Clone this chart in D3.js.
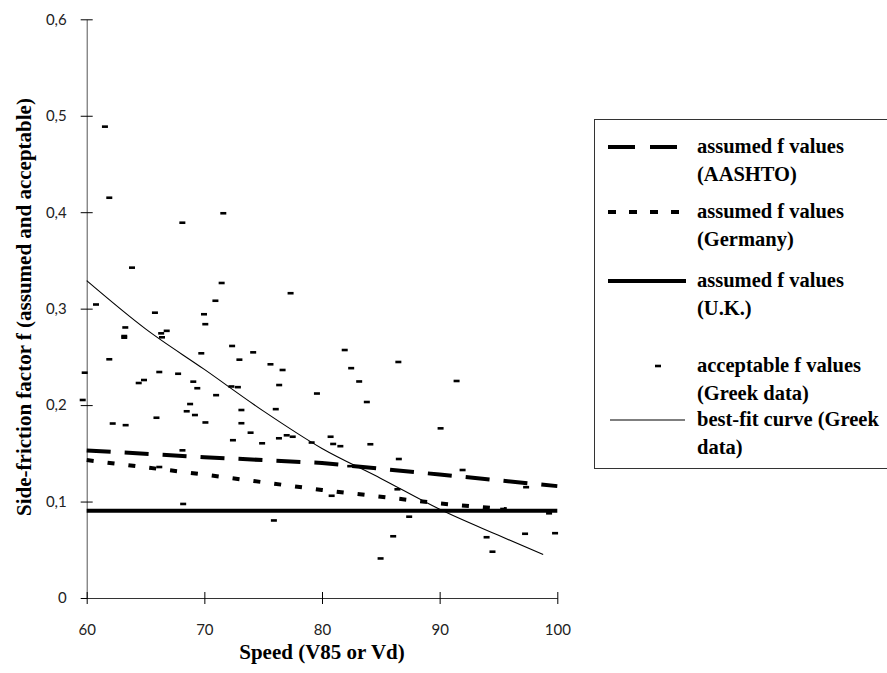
<!DOCTYPE html>
<html><head><meta charset="utf-8">
<script src="https://cdn.jsdelivr.net/npm/d3@7"></script>
<style>
body{margin:0;background:#fff;}
svg{display:block;}
</style></head>
<body>
<svg id="chart" width="887" height="673"></svg>
<script>
// ---- data ----
const xTicks = [60, 70, 80, 90, 100];
const yTicks = [0, 0.1, 0.2, 0.3, 0.4, 0.5, 0.6];
const yTickLabels = ["0", "0,1", "0,2", "0,3", "0,4", "0,5", "0,6"];

const aashtoSpeed = [60, 70, 80, 90, 100];
const aashtoF = [0.153, 0.146, 0.140, 0.128, 0.116];

const germanySpeed = [60, 70, 80, 90, 95.7];
const germanyF = [0.143, 0.128, 0.112, 0.098, 0.092];

const ukSpeed = [60, 100];
const ukF = [0.0905, 0.0905];

const fitSpeed = [60, 65, 70, 75, 80, 85, 90, 95, 98.8];
const fitF = [0.329, 0.279, 0.237, 0.194, 0.155, 0.124, 0.092, 0.065, 0.045];

const greekSpeed = [61.55,61.92,68.13,71.61,63.85,71.47,77.33,70.94,60.79,65.80,69.97,70.08,63.28,63.19,63.19,66.33,66.80,66.40,61.92,59.83,59.66,66.17,67.77,69.74,72.36,72.98,74.15,75.62,76.65,76.36,64.42,64.87,69.06,69.40,71.00,72.30,72.85,68.79,68.50,69.20,65.93,73.15,76.07,79.57,62.21,63.31,70.09,73.15,73.93,72.43,74.91,76.34,77.00,77.51,79.12,68.14,66.17,68.20,75.91,81.93,82.48,83.16,83.81,86.49,91.44,90.08,80.73,80.95,81.56,84.11,86.53,82.40,91.95,97.35,80.82,86.41,87.41,86.05,84.98,93.99,94.49,97.26,99.81,99.30,95.40];
const greekF = [0.4887,0.4150,0.3891,0.3989,0.3425,0.3266,0.3160,0.3082,0.3043,0.2958,0.2942,0.2839,0.2805,0.2716,0.2699,0.2744,0.2770,0.2703,0.2475,0.2336,0.2053,0.2343,0.2325,0.2537,0.2613,0.2471,0.2547,0.2423,0.2364,0.2208,0.2229,0.2260,0.2243,0.2175,0.2103,0.2193,0.2186,0.2011,0.1936,0.1897,0.1869,0.1949,0.1958,0.2120,0.1809,0.1792,0.1820,0.1812,0.1714,0.1636,0.1604,0.1656,0.1687,0.1672,0.1612,0.1531,0.1358,0.0975,0.0804,0.2571,0.2383,0.2245,0.2032,0.2447,0.2250,0.1759,0.1672,0.1597,0.1574,0.1594,0.1441,0.1367,0.1327,0.1149,0.1060,0.1127,0.0843,0.0640,0.0410,0.0630,0.0480,0.0666,0.0672,0.0878,0.0923];

const legendLabels = [
  ["assumed f values", "(AASHTO)"],
  ["assumed f values", "(Germany)"],
  ["assumed f values", "(U.K.)"],
  ["acceptable f values", "(Greek data)"],
  ["best-fit curve (Greek", "data)"]
];

// ---- drawing ----
const svg = d3.select("#chart");
const x = d3.scaleLinear().domain([60, 100]).range([86.7, 557.3]);
const y = d3.scaleLinear().domain([0, 0.6]).range([598, 19.3]);
const tickFont = "Lato, 'Open Sans', sans-serif";
const serif = "'Liberation Serif', 'Times New Roman', serif";

// y axis
const yAxis = svg.append("g").attr("transform", `translate(${x(60)},0)`)
  .call(d3.axisLeft(y).tickValues(yTicks).tickFormat((d, i) => yTickLabels[i]).tickSize(0).tickPadding(20));
yAxis.select(".domain").attr("stroke", "#555").attr("stroke-width", 1);
yAxis.selectAll(".tick line").attr("x1", -6).attr("x2", 6).attr("stroke", "#000");
yAxis.selectAll(".tick text").attr("font-family", tickFont).attr("font-size", 15).attr("fill", "#222");

// x axis
const xAxis = svg.append("g").attr("transform", `translate(0,${y(0)})`)
  .call(d3.axisBottom(x).tickValues(xTicks).tickSize(0).tickPadding(26));
xAxis.select(".domain").attr("stroke", "#333").attr("stroke-width", 1);
xAxis.selectAll(".tick line").attr("y1", -6).attr("y2", 6).attr("stroke", "#000");
xAxis.selectAll(".tick text").attr("font-family", tickFont).attr("font-size", 15).attr("fill", "#222");

// axis titles
svg.append("text").attr("x", 322).attr("y", 659).attr("text-anchor", "middle")
  .attr("font-family", serif).attr("font-weight", "bold").attr("font-size", 21)
  .text("Speed (V85 or Vd)");
svg.append("text").attr("transform", "translate(31,307) rotate(-90)").attr("text-anchor", "middle")
  .attr("font-family", serif).attr("font-weight", "bold").attr("font-size", 21)
  .text("Side-friction factor f (assumed and acceptable)");

const line = d3.line().x(d => x(d[0])).y(d => y(d[1]));

// UK
svg.append("path").datum(d3.zip(ukSpeed, ukF)).attr("d", line)
  .attr("fill", "none").attr("stroke", "#000").attr("stroke-width", 4);
// Germany
svg.append("path").datum(d3.zip(germanySpeed, germanyF)).attr("d", line)
  .attr("fill", "none").attr("stroke", "#000").attr("stroke-width", 4).attr("stroke-dasharray", "7,14");
// AASHTO
svg.append("path").datum(d3.zip(aashtoSpeed, aashtoF)).attr("d", line)
  .attr("fill", "none").attr("stroke", "#000").attr("stroke-width", 4).attr("stroke-dasharray", "24,14");
// best fit
svg.append("path").datum(d3.zip(fitSpeed, fitF)).attr("d", line.curve(d3.curveMonotoneX))
  .attr("fill", "none").attr("stroke", "#000").attr("stroke-width", 1.1);

// scatter markers
svg.append("g").selectAll("rect").data(d3.zip(greekSpeed, greekF)).join("rect")
  .attr("x", d => x(d[0]) - 3).attr("y", d => y(d[1]) - 1.3)
  .attr("width", 6).attr("height", 2.6).attr("fill", "#000");

// legend
const lg = svg.append("g");
lg.append("rect").attr("x", 594.5).attr("y", 119.5).attr("width", 300).attr("height", 349)
  .attr("fill", "#fff").attr("stroke", "#333").attr("stroke-width", 1);
const symY = [147, 212, 281, 366, 420];
const tx = 697;
legendLabels.forEach((lab, i) => {
  const t = lg.append("text").attr("font-family", serif).attr("font-weight", "bold").attr("font-size", 20.5).attr("fill", "#000");
  t.append("tspan").attr("x", tx).attr("y", symY[i] + 6).text(lab[0]);
  t.append("tspan").attr("x", tx).attr("y", symY[i] + 34).text(lab[1]);
});
lg.append("line").attr("x1", 608).attr("x2", 677).attr("y1", symY[0]).attr("y2", symY[0])
  .attr("stroke", "#000").attr("stroke-width", 4).attr("stroke-dasharray", "27,15");
lg.append("line").attr("x1", 608).attr("x2", 680).attr("y1", symY[1]).attr("y2", symY[1])
  .attr("stroke", "#000").attr("stroke-width", 4).attr("stroke-dasharray", "8,13");
lg.append("line").attr("x1", 608).attr("x2", 686).attr("y1", symY[2]).attr("y2", symY[2])
  .attr("stroke", "#000").attr("stroke-width", 4);
lg.append("rect").attr("x", 655).attr("y", symY[3] - 1.3).attr("width", 6).attr("height", 2.6).attr("fill", "#000");
lg.append("line").attr("x1", 610).attr("x2", 685).attr("y1", symY[4]).attr("y2", symY[4])
  .attr("stroke", "#000").attr("stroke-width", 1.1);
</script>
</body></html>
